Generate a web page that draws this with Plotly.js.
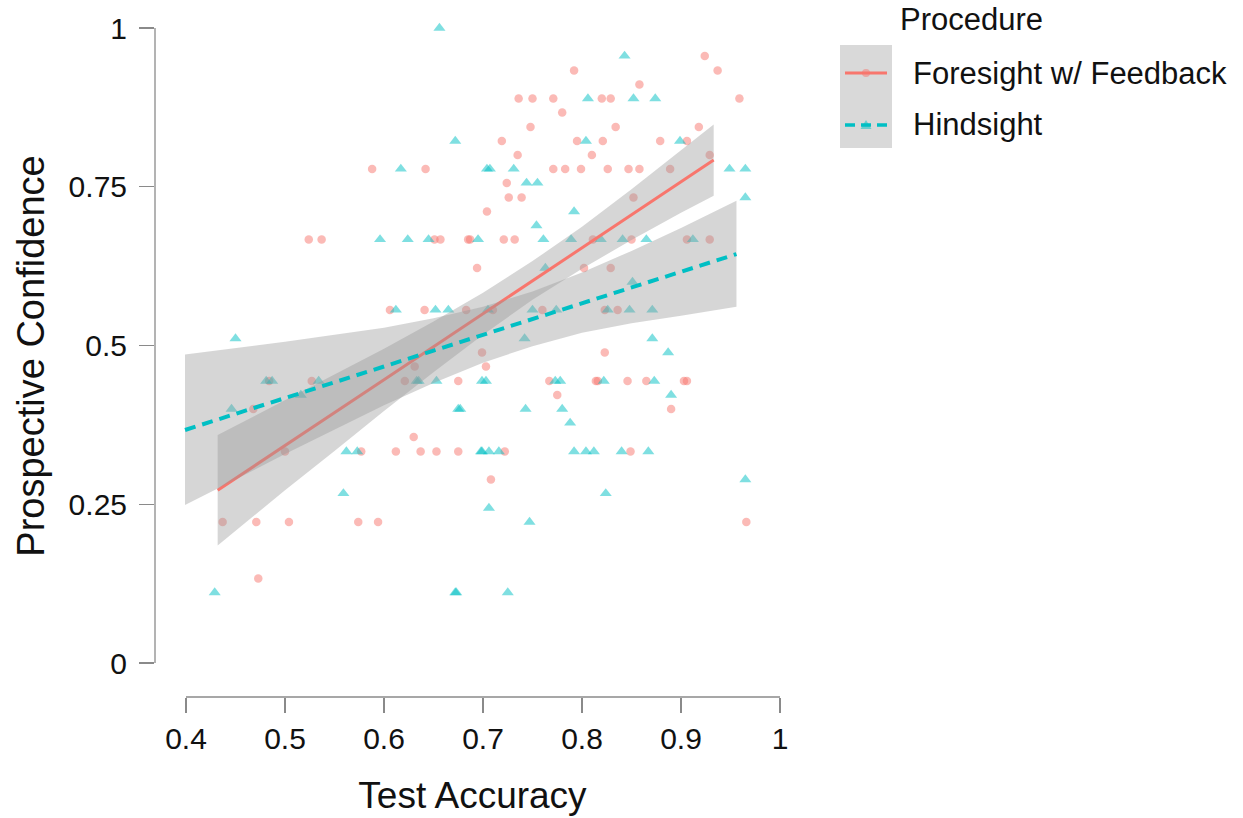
<!DOCTYPE html>
<html><head><meta charset="utf-8">
<script src="https://cdn.plot.ly/plotly-3.0.1.min.js"></script>
<style>html,body{margin:0;padding:0;background:#fff}#chart{width:1243px;height:818px}</style>
</head><body><div id="chart"></div>
<script>
// ---- tick labels ----
const xTickVals = [0.4, 0.5, 0.6, 0.7, 0.8, 0.9, 1];
const xTickText = ['0.4', '0.5', '0.6', '0.7', '0.8', '0.9', '1'];
const yTickVals = [0, 0.25, 0.5, 0.75, 1];
const yTickText = ['0', '0.25', '0.5', '0.75', '1'];
const groupNames = ['Foresight w/ Feedback', 'Hindsight'];
const legendTitle = 'Procedure';

// ---- Foresight w/ Feedback points ----
const foreX = [
  0.792,
  0.736, 0.750, 0.771,
  0.780,
  0.748,
  0.719, 0.795,
  0.735, 0.810,
  0.588, 0.642, 0.771, 0.783, 0.799,
  0.724,
  0.726, 0.739,
  0.704,
  0.651, 0.657, 0.685, 0.687, 0.721, 0.732,
  0.694, 0.802,
  0.606, 0.641, 0.683, 0.710, 0.760,
  0.924, 0.937, 0.858,
  0.820, 0.829, 0.959,
  0.834, 0.918,
  0.821, 0.879, 0.906,
  0.929,
  0.826, 0.847, 0.858, 0.889,
  0.852,
  0.811, 0.850, 0.906, 0.929,
  0.829,
  0.823, 0.836,
  0.699, 0.703, 0.631,
  0.621, 0.675, 0.767,
  0.775,
  0.630,
  0.612, 0.637, 0.653, 0.675, 0.722,
  0.708,
  0.594,
  0.823,
  0.814, 0.816, 0.846, 0.865, 0.903, 0.906,
  0.890,
  0.849,
  0.966,
  0.484, 0.527,
  0.468,
  0.500, 0.577,
  0.437, 0.471, 0.504, 0.574,
  0.473,
  0.524, 0.537
];
const foreY = [
  0.933,
  0.889, 0.889, 0.889,
  0.867,
  0.844,
  0.822, 0.822,
  0.800, 0.800,
  0.778, 0.778, 0.778, 0.778, 0.778,
  0.756,
  0.733, 0.733,
  0.711,
  0.667, 0.667, 0.667, 0.667, 0.667, 0.667,
  0.622, 0.622,
  0.556, 0.556, 0.556, 0.556, 0.556,
  0.956, 0.933, 0.911,
  0.889, 0.889, 0.889,
  0.844, 0.844,
  0.822, 0.822, 0.822,
  0.800,
  0.778, 0.778, 0.778, 0.778,
  0.733,
  0.667, 0.667, 0.667, 0.667,
  0.622,
  0.556, 0.556,
  0.489, 0.467, 0.467,
  0.444, 0.444, 0.444,
  0.422,
  0.356,
  0.333, 0.333, 0.333, 0.333, 0.333,
  0.289,
  0.222,
  0.489,
  0.444, 0.444, 0.444, 0.444, 0.444, 0.444,
  0.400,
  0.333,
  0.222,
  0.444, 0.444,
  0.400,
  0.333, 0.333,
  0.222, 0.222, 0.222, 0.222,
  0.133,
  0.667, 0.667
];

// ---- Hindsight points ----
const hindX = [
  0.656,
  0.806,
  0.672, 0.804,
  0.617, 0.704, 0.707, 0.731,
  0.744, 0.755,
  0.792,
  0.754,
  0.596, 0.624, 0.645, 0.695, 0.761, 0.789,
  0.763,
  0.612, 0.652, 0.665, 0.705, 0.750, 0.774,
  0.742,
  0.843,
  0.852, 0.874,
  0.899,
  0.949, 0.965,
  0.965,
  0.819, 0.841, 0.865, 0.912,
  0.851,
  0.826, 0.848, 0.871,
  0.871,
  0.633, 0.635, 0.653, 0.699, 0.703, 0.773, 0.778,
  0.675, 0.677, 0.743, 0.780,
  0.788,
  0.698, 0.699, 0.706, 0.716, 0.792, 0.804,
  0.706,
  0.747,
  0.672, 0.673, 0.725,
  0.887,
  0.822, 0.873,
  0.890,
  0.812, 0.840, 0.867,
  0.965,
  0.824,
  0.450,
  0.481, 0.487, 0.534,
  0.516,
  0.446,
  0.562, 0.573,
  0.559,
  0.429
];
const hindY = [
  1.000,
  0.889,
  0.822, 0.822,
  0.778, 0.778, 0.778, 0.778,
  0.756, 0.756,
  0.711,
  0.689,
  0.667, 0.667, 0.667, 0.667, 0.667, 0.667,
  0.622,
  0.556, 0.556, 0.556, 0.556, 0.556, 0.556,
  0.511,
  0.956,
  0.889, 0.889,
  0.822,
  0.778, 0.778,
  0.733,
  0.667, 0.667, 0.667, 0.667,
  0.600,
  0.556, 0.556, 0.556,
  0.511,
  0.444, 0.444, 0.444, 0.444, 0.444, 0.444, 0.444,
  0.400, 0.400, 0.400, 0.400,
  0.378,
  0.333, 0.333, 0.333, 0.333, 0.333, 0.333,
  0.244,
  0.222,
  0.111, 0.111, 0.111,
  0.489,
  0.444, 0.444,
  0.422,
  0.333, 0.333, 0.333,
  0.289,
  0.267,
  0.511,
  0.444, 0.444, 0.444,
  0.422,
  0.400,
  0.333, 0.333,
  0.267,
  0.111
];

// ---- fitted lines and confidence bands ----
const foreFitX = [0.432, 0.50, 0.55, 0.60, 0.65, 0.70, 0.75, 0.80, 0.85, 0.90, 0.933];
const foreFitY = [0.272, 0.343, 0.394, 0.446, 0.498, 0.550, 0.602, 0.654, 0.706, 0.758, 0.792];
const foreHi   = [0.359, 0.414, 0.454, 0.495, 0.538, 0.583, 0.633, 0.687, 0.746, 0.807, 0.848];
const foreLo   = [0.185, 0.272, 0.334, 0.397, 0.458, 0.517, 0.572, 0.621, 0.666, 0.709, 0.736];

const hindFitX = [0.399, 0.45, 0.50, 0.55, 0.60, 0.65, 0.70, 0.75, 0.80, 0.85, 0.90, 0.956];
const hindFitY = [0.367, 0.392, 0.417, 0.442, 0.467, 0.492, 0.517, 0.542, 0.567, 0.592, 0.616, 0.644];
const hindHi   = [0.486, 0.496, 0.506, 0.517, 0.528, 0.543, 0.561, 0.585, 0.615, 0.649, 0.685, 0.728];
const hindLo   = [0.249, 0.289, 0.329, 0.368, 0.406, 0.441, 0.473, 0.499, 0.520, 0.535, 0.547, 0.561];

// ---- styling ----
const RED = '#F8766D', TEAL = '#00BFC4';
const AXCOL = '#8a8a8a';
const FONT = 'Liberation Sans, Arial, Helvetica, sans-serif';

// plot-area geometry (pixels) for placing the hand-made legend
const M = {l: 155, r: 453, t: 15, b: 121};
const W = 1243, H = 818;
const PW = W - M.l - M.r, PH = H - M.t - M.b;
const px = v => (v - M.l) / PW;
const py = v => (H - M.b - v) / PH;

function band(xs, hi, lo) {
  return {x: xs.concat(xs.slice().reverse()), y: hi.concat(lo.slice().reverse())};
}
const fb = band(foreFitX, foreHi, foreLo);
const hb = band(hindFitX, hindHi, hindLo);

const traces = [
  {type: 'scatter', mode: 'markers', x: foreX, y: foreY, name: groupNames[0], showlegend: false,
   marker: {symbol: 'circle', size: 8.5, color: RED, opacity: 0.5, line: {width: 0}}, hoverinfo: 'skip'},
  {type: 'scatter', mode: 'markers', x: hindX, y: hindY, name: groupNames[1], showlegend: false,
   marker: {symbol: 'triangle-up', size: 10.5, color: TEAL, opacity: 0.5, line: {width: 0}}, hoverinfo: 'skip'},
  {type: 'scatter', mode: 'lines', x: fb.x, y: fb.y, fill: 'toself', fillcolor: 'rgba(153,153,153,0.4)',
   line: {width: 0}, showlegend: false, hoverinfo: 'skip'},
  {type: 'scatter', mode: 'lines', x: foreFitX, y: foreFitY, name: groupNames[0], showlegend: false,
   line: {color: RED, width: 3}},
  {type: 'scatter', mode: 'lines', x: hb.x, y: hb.y, fill: 'toself', fillcolor: 'rgba(153,153,153,0.4)',
   line: {width: 0}, showlegend: false, hoverinfo: 'skip'},
  {type: 'scatter', mode: 'lines', x: hindFitX, y: hindFitY, name: groupNames[1], showlegend: false,
   line: {color: TEAL, width: 4, dash: '11px,7px'}}
];

const shapes = [
  // detached axis lines (ggplot style)
  {type: 'line', xref: 'paper', yref: 'y', x0: 0, x1: 0, y0: 0, y1: 1, line: {color: AXCOL, width: 1.3}},
  {type: 'line', xref: 'x', yref: 'paper', x0: 0.4, x1: 1, y0: 0, y1: 0, line: {color: AXCOL, width: 1.3}},
  // legend key background
  {type: 'rect', xref: 'paper', yref: 'paper', x0: px(840), x1: px(892), y0: py(148), y1: py(45),
   fillcolor: '#d9d9d9', line: {width: 0}},
  {type: 'line', xref: 'paper', yref: 'paper', x0: px(845), x1: px(887), y0: py(73), y1: py(73),
   line: {color: RED, width: 3}},
  {type: 'circle', xref: 'paper', yref: 'paper', x0: px(862), x1: px(870), y0: py(77), y1: py(69),
   fillcolor: 'rgba(248,118,109,0.5)', line: {width: 0}},
  {type: 'line', xref: 'paper', yref: 'paper', x0: px(845), x1: px(887), y0: py(125), y1: py(125),
   line: {color: TEAL, width: 3.5, dash: '10px,6px'}},
  {type: 'path', xref: 'paper', yref: 'paper',
   path: 'M' + px(866) + ',' + py(120) + ' L' + px(871.5) + ',' + py(129) + ' L' + px(860.5) + ',' + py(129) + ' Z',
   fillcolor: 'rgba(0,191,196,0.5)', line: {width: 0}}
];

const annotations = [
  {xref: 'paper', yref: 'paper', x: px(898), y: py(20), xanchor: 'left', yanchor: 'middle', showarrow: false,
   text: legendTitle, font: {family: FONT, size: 31, color: '#111'}},
  {xref: 'paper', yref: 'paper', x: px(911), y: py(73), xanchor: 'left', yanchor: 'middle', showarrow: false,
   text: groupNames[0], font: {family: FONT, size: 31, color: '#111'}},
  {xref: 'paper', yref: 'paper', x: px(911), y: py(125), xanchor: 'left', yanchor: 'middle', showarrow: false,
   text: groupNames[1], font: {family: FONT, size: 31, color: '#111'}}
];

const layout = {
  width: W, height: H,
  margin: M,
  paper_bgcolor: '#fff', plot_bgcolor: '#fff',
  showlegend: false,
  font: {family: FONT, color: '#111'},
  xaxis: {
    range: [0.36869, 1.0101], tickvals: xTickVals, ticktext: xTickText,
    ticks: 'outside', ticklen: 15, tickwidth: 1.3, tickcolor: AXCOL,
    showline: false, showgrid: false, zeroline: false,
    tickfont: {family: FONT, size: 30, color: '#111'}, ticklabelstandoff: 0,
    title: {text: 'Test Accuracy', font: {family: FONT, size: 37, color: '#111'}, standoff: 28}
  },
  yaxis: {
    range: [-0.0535, 1.0205], tickvals: yTickVals, ticktext: yTickText,
    ticks: 'outside', ticklen: 15, tickwidth: 1.3, tickcolor: AXCOL,
    showline: false, showgrid: false, zeroline: false,
    tickfont: {family: FONT, size: 30, color: '#111'}, ticklabelstandoff: 6,
    title: {text: 'Prospective Confidence', font: {family: FONT, size: 38, color: '#111'}, standoff: 12}
  },
  shapes: shapes,
  annotations: annotations
};

Plotly.newPlot('chart', traces, layout, {displayModeBar: false, staticPlot: true});
</script>
</body></html>
